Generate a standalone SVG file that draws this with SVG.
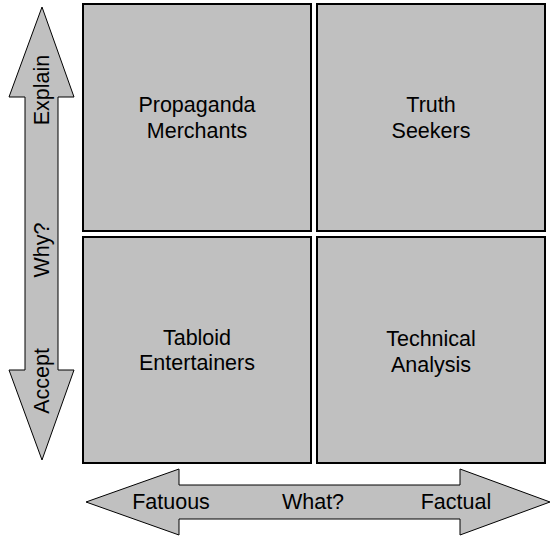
<svg xmlns="http://www.w3.org/2000/svg" width="555" height="538" viewBox="0 0 555 538">
<style>
.box{fill:#c0c0c0;stroke:#000;stroke-width:2}
.arr{fill:#c0c0c0;stroke:#000;stroke-width:1}
text{font-family:"Liberation Sans",Arial,sans-serif;font-size:21.5px;fill:#000;text-anchor:middle}
</style>
<rect width="555" height="538" fill="#fff"/>
<g id="connectors">
<polygon id="vertical-arrow" class="arr" points="42,7 74,97 58,97 58,370 74,370 42,460 9,370 25,370 25,97 9,97"/>
<polygon id="horizontal-arrow" class="arr" points="86,502 179,469 179,485 460,485 460,469 550,502 460,535 460,519 179,519 179,535"/>
<text transform="translate(49,90) rotate(-90)">Explain</text>
<text transform="translate(49,250) rotate(-90)">Why?</text>
<text transform="translate(49,381) rotate(-90)">Accept</text>
<text x="171" y="509">Fatuous</text>
<text x="313" y="509">What?</text>
<text x="456" y="509">Factual</text>
</g>
<g id="propaganda-merchants">
<rect class="box" x="83" y="4" width="228" height="227"/>
<text x="197" y="112">Propaganda</text>
<text x="197" y="138">Merchants</text>
</g>
<g id="truth-seekers">
<rect class="box" x="317" y="4" width="228" height="227"/>
<text x="431" y="112">Truth</text>
<text x="431" y="138">Seekers</text>
</g>
<g id="tabloid-entertainers">
<rect class="box" x="83" y="237" width="228" height="226"/>
<text x="197" y="345">Tabloid</text>
<text x="197" y="370">Entertainers</text>
</g>
<g id="technical-analysis">
<rect class="box" x="317" y="237" width="228" height="226"/>
<text x="431" y="346">Technical</text>
<text x="431" y="372">Analysis</text>
</g>
</svg>
